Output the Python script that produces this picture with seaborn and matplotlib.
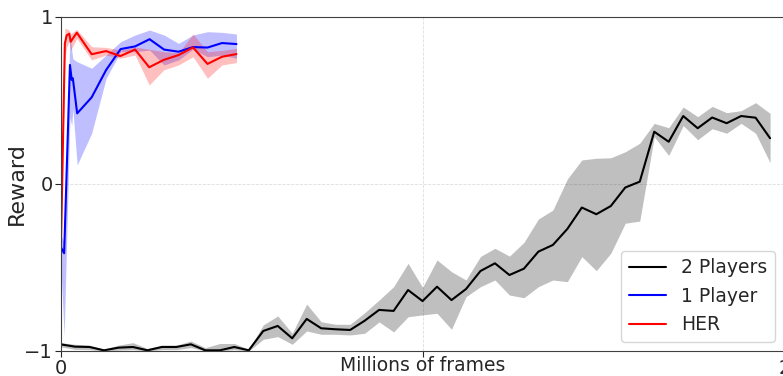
import matplotlib
matplotlib.use("Agg")
import matplotlib.pyplot as plt
import numpy as np
import pandas as pd
import seaborn as sns

sns.set_style("ticks")
plt.rcParams["font.family"] = ["DejaVu Sans"]

# --- 2 Players (self-play) ---
frames_2p = [0.00, 0.04, 0.08, 0.12, 0.16, 0.20, 0.24, 0.28, 0.32, 0.36,
             0.40, 0.44, 0.48, 0.52, 0.56, 0.60, 0.64, 0.68, 0.72, 0.76,
             0.80, 0.84, 0.88, 0.92, 0.96, 1.00, 1.04, 1.08, 1.12, 1.16,
             1.20, 1.24, 1.28, 1.32, 1.36, 1.40, 1.44, 1.48, 1.52, 1.56,
             1.60, 1.64, 1.68, 1.72, 1.76, 1.80, 1.84, 1.88, 1.92, 1.96]
reward_2p = [-0.960, -0.974, -0.976, -0.996, -0.980, -0.976, -0.996, -0.976, -0.976, -0.960,
             -0.996, -0.996, -0.976, -0.996, -0.880, -0.850, -0.924, -0.808, -0.864, -0.870,
             -0.874, -0.819, -0.754, -0.760, -0.635, -0.701, -0.615, -0.695, -0.629, -0.521,
             -0.475, -0.545, -0.507, -0.405, -0.365, -0.269, -0.141, -0.181, -0.132, -0.021,
             0.014, 0.313, 0.253, 0.407, 0.334, 0.398, 0.364, 0.407, 0.397, 0.274]
upper_2p = [-0.950, -0.960, -0.965, -0.990, -0.965, -0.950, -0.985, -0.965, -0.965, -0.940,
            -0.980, -0.955, -0.955, -0.990, -0.844, -0.790, -0.894, -0.719, -0.825, -0.840,
            -0.840, -0.771, -0.695, -0.615, -0.475, -0.619, -0.455, -0.525, -0.575, -0.434,
            -0.385, -0.432, -0.350, -0.210, -0.156, 0.030, 0.144, 0.154, 0.157, 0.193,
            0.244, 0.363, 0.337, 0.461, 0.403, 0.465, 0.427, 0.439, 0.487, 0.423]
lower_2p = [-0.975, -0.990, -0.992, -1.000, -0.995, -0.992, -1.000, -0.992, -0.992, -0.980,
            -1.000, -1.000, -0.992, -1.000, -0.930, -0.914, -0.960, -0.880, -0.900, -0.900,
            -0.904, -0.894, -0.826, -0.886, -0.795, -0.784, -0.774, -0.870, -0.675, -0.615,
            -0.575, -0.665, -0.681, -0.615, -0.575, -0.585, -0.435, -0.519, -0.415, -0.235,
            -0.222, 0.283, 0.171, 0.350, 0.265, 0.331, 0.304, 0.363, 0.304, 0.128]

# --- 1 Player ---
frames_1p = [0.000, 0.010, 0.026, 0.031, 0.034, 0.046, 0.086, 0.126, 0.166,
             0.206, 0.246, 0.286, 0.326, 0.366, 0.406, 0.446, 0.486]
reward_1p = [-0.375, -0.415, 0.713, 0.623, 0.633, 0.423, 0.519, 0.683, 0.808,
             0.824, 0.867, 0.805, 0.792, 0.820, 0.817, 0.844, 0.838]
upper_1p = [-0.300, -0.350, 0.900, 0.800, 0.750, 0.732, 0.693, 0.772, 0.852,
            0.892, 0.922, 0.892, 0.842, 0.892, 0.912, 0.908, 0.898]
lower_1p = [-0.450, -0.910, 0.400, 0.350, 0.450, 0.114, 0.304, 0.633, 0.792,
            0.792, 0.802, 0.713, 0.743, 0.807, 0.762, 0.772, 0.753]

# --- HER ---
frames_her = [0.000, 0.012, 0.017, 0.024, 0.028, 0.045, 0.086, 0.126, 0.165,
              0.206, 0.245, 0.285, 0.326, 0.366, 0.406, 0.446, 0.486]
reward_her = [-0.500, 0.842, 0.890, 0.900, 0.852, 0.906, 0.777, 0.796, 0.766,
              0.805, 0.699, 0.743, 0.772, 0.818, 0.719, 0.762, 0.778]
upper_her = [-0.440, 0.930, 0.930, 0.920, 0.900, 0.925, 0.822, 0.818, 0.802,
             0.820, 0.807, 0.792, 0.785, 0.898, 0.792, 0.800, 0.812]
lower_her = [-0.560, 0.750, 0.820, 0.850, 0.800, 0.872, 0.743, 0.772, 0.753,
             0.772, 0.593, 0.683, 0.713, 0.762, 0.633, 0.713, 0.727]

series = [
    ("2 Players", "black", frames_2p, reward_2p, lower_2p, upper_2p),
    ("1 Player", "blue", frames_1p, reward_1p, lower_1p, upper_1p),
    ("HER", "red", frames_her, reward_her, lower_her, upper_her),
]

fig = plt.figure(figsize=(7.83, 3.76), dpi=100)
ax = fig.add_axes([0.0773, 0.0665, 0.9247, 0.8883])

for name, color, x, y, lo, hi in series:
    ax.fill_between(x, lo, hi, color=color, alpha=0.25, linewidth=0)
    df = pd.DataFrame({"frames": x, "reward": y})
    sns.lineplot(data=df, x="frames", y="reward", color=color, linewidth=1.5,
                 label=name, estimator=None, sort=False, ax=ax)

ax.set_xlim(0, 2)
ax.set_ylim(-1, 1)
ax.set_xticks([0, 1, 2])
ax.set_xticklabels(["0", "", "2"])
ax.set_yticks([-1, 0, 1])
ax.tick_params(labelsize=14, direction="out", length=4, width=0.8, pad=1.5)
ax.grid(True, linestyle="--", color="0.87", linewidth=0.6)

ax.set_xlabel("Millions of frames", fontsize=13.5)
ax.xaxis.set_label_coords(0.5, -0.015)
ax.set_ylabel("Reward", fontsize=16)
ax.yaxis.set_label_coords(-0.047, 0.5)

for s in ax.spines.values():
    s.set_visible(True)
    s.set_color("0.25")
    s.set_linewidth(0.8)

ax.legend(loc="lower right", fontsize=13.5, frameon=True)

fig.savefig("out.png", dpi=100)
